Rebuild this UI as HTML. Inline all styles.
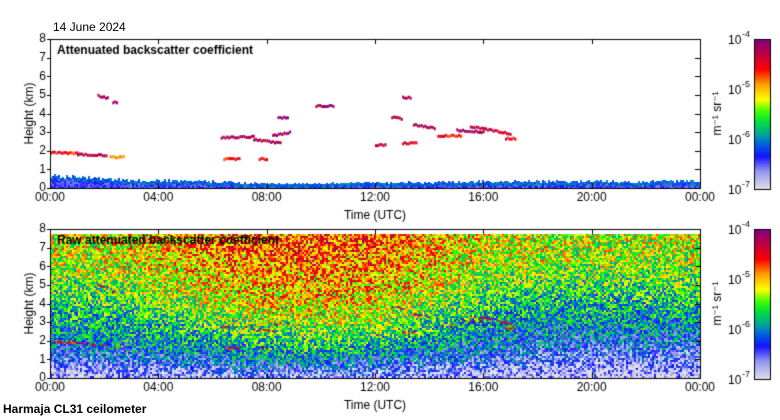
<!DOCTYPE html>
<html><head><meta charset="utf-8">
<style>
body{margin:0;background:#fff;width:780px;height:420px;overflow:hidden;position:relative;font-family:"Liberation Sans",sans-serif;color:#000}
.t{position:absolute;font-size:12px;line-height:12px;white-space:nowrap}
.b{font-weight:bold}
canvas{position:absolute;left:0;top:0}
</style></head><body>
<canvas id="cv" width="780" height="420"></canvas>
<div class="t" style="left:53px;top:21px">14 June 2024</div>
<div class="t b" style="left:3px;top:403px">Harmaja CL31 ceilometer</div>
<script>
// ---- data ----
const xTickLabels=["00:00","04:00","08:00","12:00","16:00","20:00","00:00"];
const xTickHours=[0,4,8,12,16,20,24];
const yTickLabels=["0","1","2","3","4","5","6","7","8"];
const cbarExps=[-7,-6,-5,-4];
// raw field: exponent by hour (cols) and height km (rows)
const fieldHours=[0,2,4,6,8,10,12,14,16,18,20,22,24];
const fieldHeights=[0,0.5,1,2,3,4,5,6,7,8];
const fieldValues=[
 [-6.9,-6.9,-6.9,-6.8,-6.8,-6.8,-6.8,-6.8,-6.9,-6.9,-6.9,-6.9,-6.9],
 [-6.7,-6.7,-6.6,-6.5,-6.4,-6.4,-6.5,-6.6,-6.7,-6.8,-6.8,-6.8,-6.8],
 [-6.4,-6.4,-6.3,-6.2,-6.1,-6.1,-6.2,-6.3,-6.4,-6.5,-6.6,-6.6,-6.6],
 [-6.1,-6.0,-5.95,-5.8,-5.7,-5.6,-5.7,-5.9,-6.1,-6.2,-6.2,-6.2,-6.2],
 [-5.9,-5.8,-5.7,-5.5,-5.4,-5.3,-5.4,-5.6,-5.9,-6.0,-6.0,-6.0,-6.0],
 [-5.7,-5.65,-5.5,-5.3,-5.1,-5.1,-5.2,-5.4,-5.7,-5.8,-5.8,-5.8,-5.7],
 [-5.5,-5.45,-5.3,-5.1,-4.95,-4.95,-5.0,-5.2,-5.45,-5.55,-5.6,-5.6,-5.5],
 [-5.35,-5.3,-5.15,-4.95,-4.85,-4.85,-4.9,-5.1,-5.3,-5.35,-5.4,-5.4,-5.35],
 [-5.25,-5.2,-5.05,-4.85,-4.75,-4.75,-4.8,-5.0,-5.2,-5.25,-5.3,-5.3,-5.25],
 [-5.25,-5.2,-5.05,-4.85,-4.75,-4.75,-4.8,-5.0,-5.2,-5.25,-5.3,-5.3,-5.25]];
// cloud segments: start hour, end hour, start km, end km, exponent
const cloudStart=[0.0,1.0,2.2,1.75,2.3,6.3,7.5,8.2,6.4,7.7,8.4,9.8,12.0,12.6,13.0,13.4,14.3,15.0,15.5,16.8,13.0];
const cloudEnd  =[1.0,2.1,2.7,2.15,2.5,7.5,8.5,8.9,7.0,8.0,8.8,10.5,12.4,13.0,13.3,14.2,15.2,16.0,17.0,17.2,13.5];
const cloudH0   =[1.9,1.8,1.65,4.95,4.6,2.7,2.6,2.8,1.55,1.55,3.75,4.4,2.3,3.8,4.85,3.4,2.8,3.1,3.3,2.65,2.4];
const cloudH1   =[1.85,1.75,1.65,4.8,4.6,2.75,2.4,3.0,1.55,1.55,3.8,4.4,2.3,3.7,4.85,3.2,2.8,3.0,2.9,2.65,2.4];
const cloudExp  =[-4.6,-4.3,-4.9,-4.2,-4.2,-4.2,-4.2,-4.1,-4.6,-4.6,-4.0,-4.1,-4.3,-4.2,-4.2,-4.2,-4.5,-4.1,-4.3,-4.6,-4.5];
// ground aerosol layer top (km) in top panel, by hour
const groundHours=[0,1,2,3,4,5,6,7,8,10,12,14,16,18,20,22,24];
const groundTop  =[0.6,0.5,0.45,0.35,0.35,0.35,0.3,0.25,0.2,0.2,0.25,0.25,0.3,0.3,0.3,0.3,0.35];

// ---- helpers ----
const cv=document.getElementById('cv');const ctx=cv.getContext('2d');
const PX0=50,PX1=700;
const panels=[{y0:39,y1:188},{y0:229,y1:378}];
const xs=h=>PX0+(PX1-PX0)*h/24;
const ys=(p,km)=>p.y1-(p.y1-p.y0)*km/8;
const stops=[[0,[224,224,232]],[0.12,[150,150,240]],[0.22,[20,20,255]],[0.3,[0,96,224]],[0.36,[0,160,160]],[0.45,[0,224,64]],[0.52,[64,255,0]],[0.6,[255,255,0]],[0.7,[255,160,0]],[0.8,[255,0,0]],[0.9,[192,0,64]],[1,[128,0,128]]];
function cmap(e){let f=(e+7)/3;f=Math.max(0,Math.min(1,f));for(let i=1;i<stops.length;i++){if(f<=stops[i][0]){const a=stops[i-1],b=stops[i],t=(f-a[0])/(b[0]-a[0]);return 'rgb('+a[1].map((v,k)=>Math.round(v+(b[1][k]-v)*t)).join(',')+')';}}return 'rgb(128,0,128)';}
function hash(i,j){let n=(i*374761393+j*668265263)|0;n=(n^(n>>>13))*1274126177|0;return ((n^(n>>>16))>>>0)/4294967295;}
function interp(xa,ya,x){for(let i=1;i<xa.length;i++)if(x<=xa[i]){const t=(x-xa[i-1])/(xa[i]-xa[i-1]);return ya[i-1]+(ya[i]-ya[i-1])*t;}return ya[ya.length-1];}
function field(h,km){const col=fieldHeights.map((_,r)=>interp(fieldHours,fieldValues[r],h));return interp(fieldHeights,col,km);}

// ---- raw panel ----
const P2=panels[1];
for(let x=PX0;x<PX1;x+=2){for(let y=P2.y0+5;y<P2.y1;y+=2){const h=(x-PX0)/(PX1-PX0)*24,km=(P2.y1-y)/(P2.y1-P2.y0)*8;const e=field(h,km)+(hash(x,y)-0.5)*1.2;ctx.fillStyle=cmap(e);ctx.fillRect(x,y,2,2);}}
// ---- top panel ground layer ----
const P1=panels[0];
for(let x=PX0;x<PX1;x+=2){const h=(x-PX0)/(PX1-PX0)*24;const top=interp(groundHours,groundTop,h)*(0.8+0.5*hash(x,7));const yt=ys(P1,top);for(let y=Math.floor(yt);y<P1.y1;y+=2){const km=(P1.y1-y)/(P1.y1-P1.y0)*8;const e=(km>top-0.12?-6.1:-6.45)+(hash(x,y)-0.5)*0.3;ctx.fillStyle=cmap(e);ctx.fillRect(x,y,2,2);}}
// clouds
for(let i=0;i<cloudStart.length;i++){for(let h=cloudStart[i];h<=cloudEnd[i];h+=0.07){const t=(h-cloudStart[i])/Math.max(0.01,cloudEnd[i]-cloudStart[i]);const km=cloudH0[i]+(cloudH1[i]-cloudH0[i])*t;for(let k=0;k<2;k++){const P=panels[k];if(k==1&&hash(Math.round(h*100),i)<0.4)continue;ctx.fillStyle=cmap(cloudExp[i]+(hash(Math.round(h*100),i+3)-0.5)*0.5);ctx.fillRect(xs(h),ys(P,km)-2+(hash(Math.round(h*100),i+9)>0.5?1:0),2,k?2:3);}}}
// ---- axes ----
ctx.strokeStyle='#000';ctx.fillStyle='#000';ctx.lineWidth=1;
ctx.font='12px "Liberation Sans", sans-serif';
panels.forEach((P,pi)=>{
 ctx.strokeRect(PX0+0.5,P.y0+0.5,PX1-PX0,P.y1-P.y0);
 ctx.beginPath();
 xTickHours.forEach(h=>{const x=Math.round(xs(h))+0.5;ctx.moveTo(x,P.y1);ctx.lineTo(x,P.y1-5);ctx.moveTo(x,P.y0);ctx.lineTo(x,P.y0+5);});
 yTickLabels.forEach((l,i)=>{const y=Math.round(ys(P,i))+0.5;ctx.moveTo(PX0-3,y);ctx.lineTo(PX0,y);ctx.moveTo(PX1,y);ctx.lineTo(PX1-5,y);});
 ctx.stroke();
 ctx.textAlign='right';ctx.textBaseline='middle';
 yTickLabels.forEach((l,i)=>ctx.fillText(l,PX0-4,ys(P,i)));
 ctx.textAlign='center';ctx.textBaseline='top';
 xTickLabels.forEach((l,i)=>ctx.fillText(l,xs(xTickHours[i]),P.y1+4));
 ctx.fillText('Time (UTC)',375,P.y1+22);
 ctx.save();ctx.translate(30,(P.y0+P.y1)/2);ctx.rotate(-Math.PI/2);ctx.textBaseline='middle';ctx.fillText('Height (km)',0,0);ctx.restore();
 // colorbar
 const cx0=754,cx1=770;
 for(let y=P.y0;y<P.y1+1;y++){const e=-4-3*(y-P.y0)/(P.y1+1-P.y0);ctx.fillStyle=cmap(e);ctx.fillRect(cx0,y,cx1-cx0,1);}
 ctx.strokeRect(cx0+0.5,P.y0+0.5,cx1-cx0,P.y1+1-P.y0);
 ctx.fillStyle='#000';
 cbarExps.forEach(e=>{const y=P.y1+1-(P.y1+1-P.y0)*(e+7)/3;ctx.textAlign='left';ctx.textBaseline='middle';ctx.font='12px "Liberation Sans", sans-serif';ctx.fillText('10',728,y+2);ctx.font='9px "Liberation Sans", sans-serif';ctx.fillText(String(e),742,y-4);});
 ctx.font='12px "Liberation Sans", sans-serif';
 ctx.save();ctx.translate(718,(P.y0+P.y1)/2);ctx.rotate(-Math.PI/2);ctx.textAlign='center';ctx.textBaseline='middle';ctx.fillText('m\u207B\u00B9 sr\u207B\u00B9',0,0);ctx.restore();
 ctx.font='bold 12px "Liberation Sans", sans-serif';ctx.textAlign='left';ctx.textBaseline='top';
 ctx.fillText(pi?'Raw attenuated backscatter coefficient':'Attenuated backscatter coefficient',57,P.y0+6);
 ctx.font='12px "Liberation Sans", sans-serif';
});
</script>
</body></html>
